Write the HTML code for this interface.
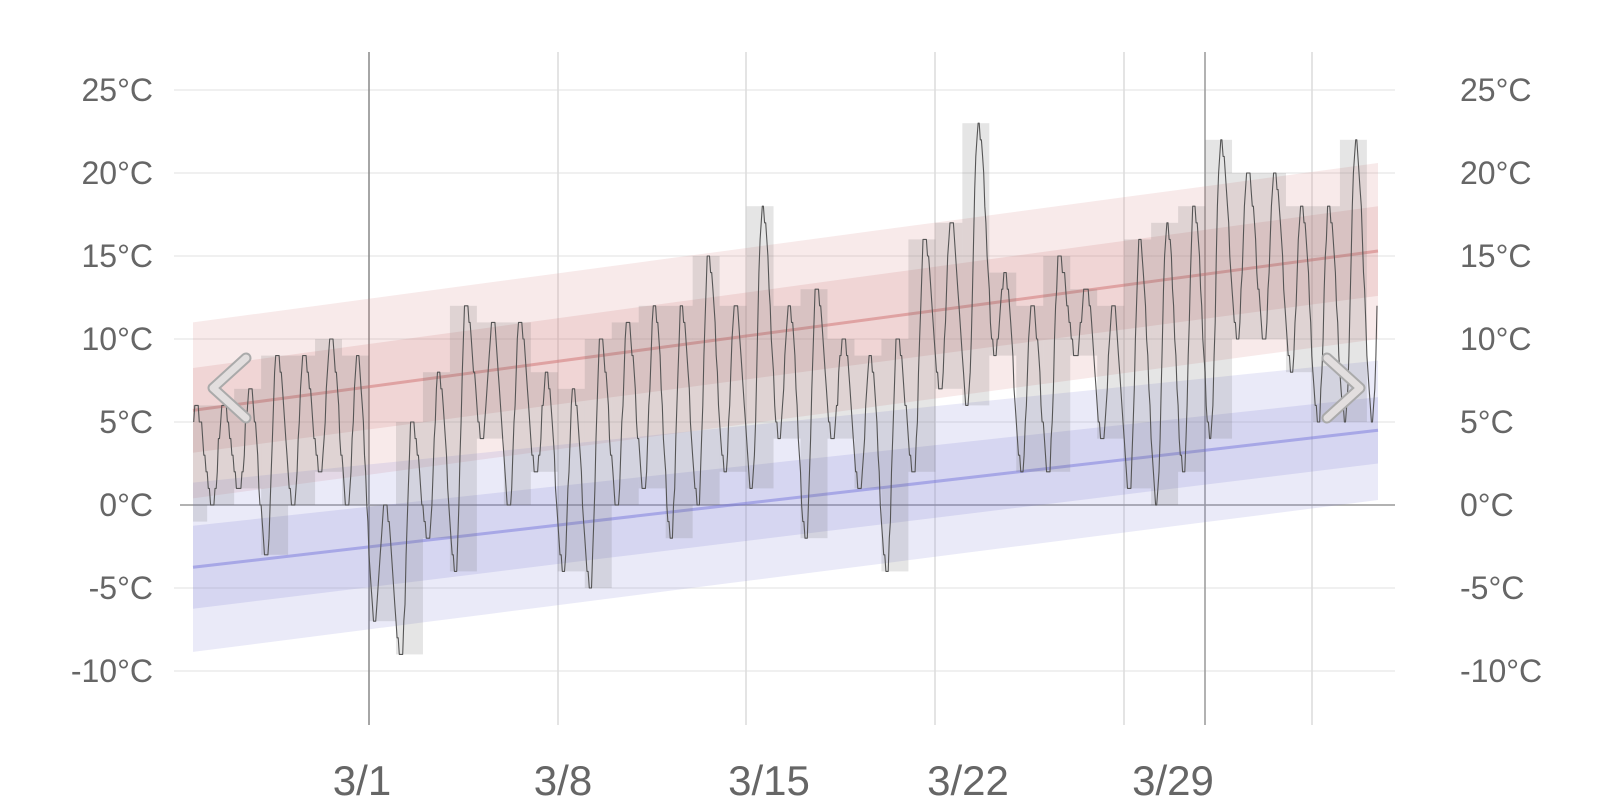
<!DOCTYPE html>
<html><head><meta charset="utf-8"><style>
html,body{margin:0;padding:0;background:#fff;}
svg{display:block;}
text{font-family:"Liberation Sans",sans-serif;fill:#666;}
</style></head><body>
<svg id="c" width="1618" height="810" xmlns="http://www.w3.org/2000/svg">
<g id="grid"></g>
<g id="bands"></g>
<g id="boxes"></g>
<g id="line"></g>
<g id="labels">
<text x="153" y="101" font-size="32" text-anchor="end">25°C</text>
<text x="153" y="184" font-size="32" text-anchor="end">20°C</text>
<text x="153" y="267" font-size="32" text-anchor="end">15°C</text>
<text x="153" y="350" font-size="32" text-anchor="end">10°C</text>
<text x="153" y="433" font-size="32" text-anchor="end">5°C</text>
<text x="153" y="516" font-size="32" text-anchor="end">0°C</text>
<text x="153" y="599" font-size="32" text-anchor="end">-5°C</text>
<text x="153" y="682" font-size="32" text-anchor="end">-10°C</text>
<text x="1460" y="101" font-size="32">25°C</text>
<text x="1460" y="184" font-size="32">20°C</text>
<text x="1460" y="267" font-size="32">15°C</text>
<text x="1460" y="350" font-size="32">10°C</text>
<text x="1460" y="433" font-size="32">5°C</text>
<text x="1460" y="516" font-size="32">0°C</text>
<text x="1460" y="599" font-size="32">-5°C</text>
<text x="1460" y="682" font-size="32">-10°C</text>
<text x="362" y="795" font-size="42" text-anchor="middle">3/1</text>
<text x="563" y="795" font-size="42" text-anchor="middle">3/8</text>
<text x="769" y="795" font-size="42" text-anchor="middle">3/15</text>
<text x="968" y="795" font-size="42" text-anchor="middle">3/22</text>
<text x="1173" y="795" font-size="42" text-anchor="middle">3/29</text>
</g>
<g fill="none" stroke-linecap="round" stroke-linejoin="round">
<polyline points="246,358 213,388 246,418" stroke="#aaa" stroke-width="11"/>
<polyline points="246,358 213,388 246,418" stroke="#e2dede" stroke-width="7"/>
<polyline points="1327,358 1360,388 1327,418" stroke="#aaa" stroke-width="11"/>
<polyline points="1327,358 1360,388 1327,418" stroke="#e2dede" stroke-width="7"/>
</g>
</svg>
<script>
(function(){
var NS="http://www.w3.org/2000/svg";
function el(p,n,a){var e=document.createElementNS(NS,n);for(var k in a)e.setAttribute(k,a[k]);p.appendChild(e);return e;}
function Y(t){return 505-16.6*t;}
var D0=369,DW=26.97;
function X(d){return D0+DW*d;}
var g=document.getElementById('grid');
for(var t=-10;t<=25;t+=5){ if(t==0)continue; el(g,'line',{x1:174,x2:1395,y1:Y(t),y2:Y(t),stroke:'#ebebeb','stroke-width':1.5});}
var vx=[[558,'#dcdcdc'],[746,'#dcdcdc'],[935,'#dcdcdc'],[1124,'#dcdcdc'],[1312,'#dcdcdc'],[369,'#888'],[1205,'#999']];
vx.forEach(function(v){el(g,'line',{x1:v[0],x2:v[0],y1:52,y2:725,stroke:v[1],'stroke-width':1.5});});
el(g,'line',{x1:180,x2:1395,y1:Y(0),y2:Y(0),stroke:'#999','stroke-width':1.5});
// bands
var b=document.getElementById('bands');
var xs=193,xe=1378;
function band(m0,m1,h0,h1,fill){
 var pts=[];var N=20;
 for(var i=0;i<=N;i++){var f=i/N;var x=xs+(xe-xs)*f;var m=m0+(m1-m0)*f;var h=h0+(h1-h0)*f;pts.push(x+','+Y(m+h));}
 for(var i=N;i>=0;i--){var f=i/N;var x=xs+(xe-xs)*f;var m=m0+(m1-m0)*f;var h=h0+(h1-h0)*f;pts.push(x+','+Y(m-h));}
 el(b,'polygon',{points:pts.join(' '),fill:fill});
}
band(5.7,15.3,5.3,5.3,'rgba(215,130,130,0.17)');
band(5.7,15.3,2.55,2.7,'rgba(200,110,110,0.17)');
band(-3.75,4.5,5.1,4.2,'rgba(130,130,215,0.17)');
band(-3.75,4.5,2.5,2.0,'rgba(120,120,210,0.17)');
el(b,'line',{x1:xs,y1:Y(5.7),x2:xe,y2:Y(15.3),stroke:'rgba(210,120,120,0.55)','stroke-width':3});
el(b,'line',{x1:xs,y1:Y(-3.75),x2:xe,y2:Y(4.5),stroke:'rgba(120,120,220,0.5)','stroke-width':3});
// daily data d=-7..36
var data={'-7':[6,-1],'-6':[6,0],'-5':[7,1],'-4':[9,-3],'-3':[9,0],'-2':[10,2],'-1':[9,0],
'0':[0,-7],'1':[5,-9],'2':[8,-2],'3':[12,-4],'4':[11,4],'5':[11,0],'6':[8,2],'7':[7,-4],'8':[10,-5],'9':[11,0],
'10':[12,1],'11':[12,-2],'12':[15,0],'13':[12,2],'14':[18,1],'15':[12,4],'16':[13,-2],'17':[10,4],'18':[9,1],
'19':[10,-4],'20':[16,2],'21':[17,7],'22':[23,6],'23':[14,9],'24':[12,2],'25':[15,2],'26':[13,9],'27':[12,4],
'28':[16,1],'29':[17,0],'30':[18,2],'31':[22,4],'32':[20,10],'33':[20,10],'34':[18,8],'35':[18,5],'36':[22,5]};
var bx=document.getElementById('boxes');
for(var d=-7;d<=36;d++){
 var v=data[d];var x0=Math.max(X(d),xs),x1=Math.min(X(d+1),xe);
 el(bx,'rect',{x:x0,y:Y(v[0]),width:x1-x0,height:Y(v[1])-Y(v[0]),fill:'rgba(110,110,110,0.18)'});
}
// hourly line
var pts=[];
var startH=-6.5*24,endH=(xe-D0)/DW*24;
function val(H){
 var d=Math.floor(H/24),h=H-d*24;
 var cur=data[d]||data[36],prev=data[d-1]||cur,next=data[d+1]||cur;
 var a,bb,f;
 if(h<5){a=prev[0];bb=cur[1];f=(h+10)/15;}
 else if(h<14){a=cur[1];bb=cur[0];f=(h-5)/9;}
 else {a=cur[0];bb=next[1];f=(h-14)/15;}
 var s=(1-Math.cos(Math.PI*f))/2;
 var t=a+(bb-a)*s;
 return Math.round(t);
}
for(var H=Math.ceil(startH);H<=endH;H++){pts.push((D0+DW*H/24).toFixed(1)+','+Y(val(H)).toFixed(1));}
el(document.getElementById('line'),'polyline',{points:pts.join(' '),fill:'none',stroke:'#555','stroke-width':1.1,'stroke-linejoin':'round'});
})();
</script>
</body></html>
